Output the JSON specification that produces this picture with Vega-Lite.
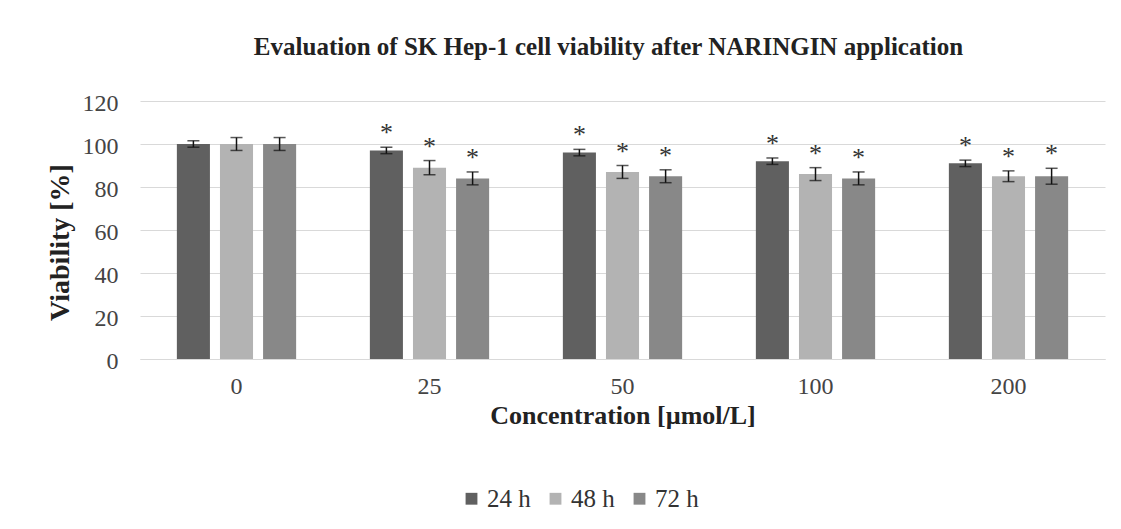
{
  "$schema": "https://vega.github.io/schema/vega-lite/v6.json",
  "width": 965,
  "height": 258,
  "autosize": {"type": "none"},
  "padding": {"left": 140, "top": 101, "right": 16, "bottom": 170},
  "background": "white",
  "title": {
    "text": "Evaluation of SK Hep-1 cell viability after NARINGIN  application",
    "font": "Liberation Serif",
    "fontSize": 25,
    "fontWeight": "bold",
    "color": "#222222",
    "offset": 31,
    "dx": -14
  },
  "config": {
    "view": {"stroke": null},
    "font": "Liberation Serif"
  },
  "data": {
    "values": [
      {"conc": "0", "time": "24 h", "v": 100, "lo": 98.5, "hi": 101.5, "star": ""},
      {"conc": "0", "time": "48 h", "v": 100, "lo": 97, "hi": 103, "star": ""},
      {"conc": "0", "time": "72 h", "v": 100, "lo": 97, "hi": 103, "star": ""},
      {"conc": "25", "time": "24 h", "v": 97, "lo": 95.5, "hi": 98.5, "star": "*"},
      {"conc": "25", "time": "48 h", "v": 89, "lo": 85.7, "hi": 92.3, "star": "*"},
      {"conc": "25", "time": "72 h", "v": 84, "lo": 81, "hi": 87, "star": "*"},
      {"conc": "50", "time": "24 h", "v": 96, "lo": 94.5, "hi": 97.5, "star": "*"},
      {"conc": "50", "time": "48 h", "v": 87, "lo": 84, "hi": 90, "star": "*"},
      {"conc": "50", "time": "72 h", "v": 85, "lo": 82, "hi": 88, "star": "*"},
      {"conc": "100", "time": "24 h", "v": 92, "lo": 90.5, "hi": 93.5, "star": "*"},
      {"conc": "100", "time": "48 h", "v": 86, "lo": 83, "hi": 89, "star": "*"},
      {"conc": "100", "time": "72 h", "v": 84, "lo": 81, "hi": 87, "star": "*"},
      {"conc": "200", "time": "24 h", "v": 91, "lo": 89.5, "hi": 92.5, "star": "*"},
      {"conc": "200", "time": "48 h", "v": 85, "lo": 82.5, "hi": 87.5, "star": "*"},
      {"conc": "200", "time": "72 h", "v": 85, "lo": 81.3, "hi": 88.7, "star": "*"}
    ]
  },
  "encoding": {
    "x": {
      "field": "conc",
      "type": "nominal",
      "sort": ["0", "25", "50", "100", "200"],
      "scale": {"paddingInner": 0.33, "paddingOuter": 0.165},
      "axis": {
        "title": "Concentration [µmol/L]",
        "titleFont": "Liberation Serif",
        "titleFontSize": 26,
        "titleFontWeight": "bold",
        "titleColor": "#222222",
        "titlePadding": 4,
        "labelFont": "Liberation Serif",
        "labelFontSize": 24,
        "labelColor": "#444444",
        "labelAngle": 0,
        "labelPadding": 15,
        "ticks": false,
        "domain": true,
        "domainColor": "#d9d9d9",
        "grid": false
      }
    },
    "xOffset": {
      "field": "time",
      "type": "nominal",
      "scale": {"paddingInner": 0.233, "paddingOuter": 0.1165}
    }
  },
  "layer": [
    {
      "mark": {"type": "bar"},
      "encoding": {
        "y": {
          "field": "v",
          "type": "quantitative",
          "scale": {"domain": [0, 120]},
          "axis": {
            "values": [0, 20, 40, 60, 80, 100, 120],
            "title": "Viability [%]",
            "titleFont": "Liberation Serif",
            "titleFontSize": 28,
            "titleFontWeight": "bold",
            "titleColor": "#222222",
            "titleAngle": 270,
            "titleAlign": "center",
            "titleBaseline": "middle",
            "titleX": -80,
            "titleY": 141,
            "labelFont": "Liberation Serif",
            "labelFontSize": 24,
            "labelColor": "#444444",
            "labelPadding": 22,
            "labelOffset": 2,
            "ticks": false,
            "domain": false,
            "grid": true,
            "gridColor": "#d9d9d9",
            "gridWidth": 1.2
          }
        },
        "color": {
          "field": "time",
          "type": "nominal",
          "scale": {"domain": ["24 h", "48 h", "72 h"], "range": ["#606060", "#b3b3b3", "#888888"]},
          "legend": {
            "title": null,
            "orient": "none",
            "direction": "horizontal",
            "legendX": 319,
            "legendY": 385,
            "symbolType": "square",
            "symbolSize": 140,
            "symbolStrokeWidth": 0,
            "labelFont": "Liberation Serif",
            "labelFontSize": 25,
            "labelColor": "#333333",
            "columnPadding": 12,
            "labelOffset": 3
          }
        }
      }
    },
    {
      "mark": {"type": "rule", "color": "#111111", "strokeWidth": 1.5},
      "encoding": {
        "y": {"field": "lo", "type": "quantitative"},
        "y2": {"field": "hi"}
      }
    },
    {
      "mark": {"type": "tick", "color": "#111111", "thickness": 1.5, "size": 12, "orient": "horizontal"},
      "encoding": {
        "y": {"field": "lo", "type": "quantitative"}
      }
    },
    {
      "mark": {"type": "tick", "color": "#111111", "thickness": 1.5, "size": 12, "orient": "horizontal"},
      "encoding": {
        "y": {"field": "hi", "type": "quantitative"}
      }
    },
    {
      "mark": {"type": "text", "fontSize": 26, "color": "#333333", "baseline": "alphabetic", "dy": -6, "font": "Liberation Serif"},
      "encoding": {
        "y": {"field": "hi", "type": "quantitative"},
        "text": {"field": "star"}
      }
    }
  ]
}
